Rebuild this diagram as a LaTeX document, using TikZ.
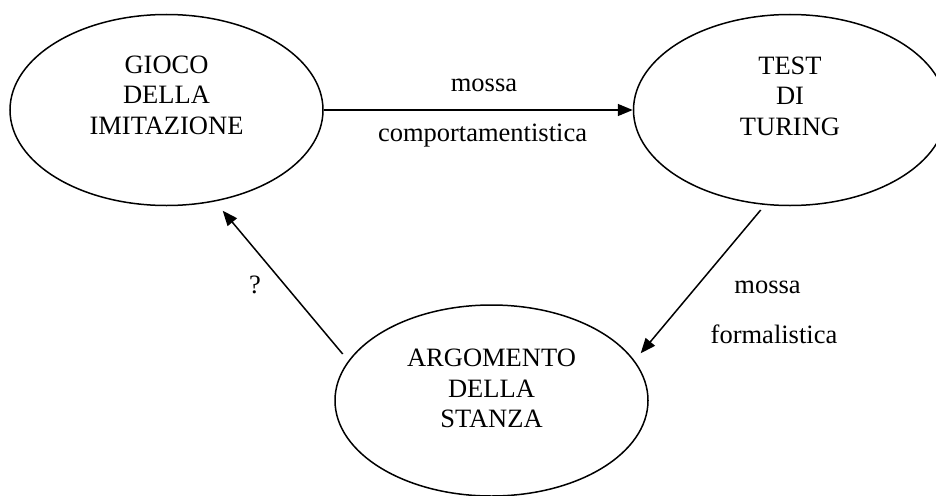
\documentclass[tikz,border=0pt]{standalone}
\usepackage{fontspec}
\setmainfont{Liberation Serif}
\usetikzlibrary{shapes.geometric,arrows.meta,calc}
\begin{document}
\begin{tikzpicture}[x=1pt,y=-1pt,
  bubble/.style={draw,line width=1.5pt,ellipse,minimum width=313pt,minimum height=191pt,inner sep=0pt},
  caption/.style={align=center,anchor=north,inner sep=0pt,font=\fontsize{26.5}{30.7}\selectfont},
  edgelabel/.style={anchor=base,inner sep=0pt,font=\fontsize{26.5}{30.7}\selectfont},
  link/.style={line width=1.5pt,-{Triangle[length=15pt,width=12pt]}}]
\useasboundingbox (0,0) rectangle (936,495);

% the three stages of the argument
\node[bubble] (gioco) at (166.5,110) {};
\node[bubble] (test)  at (790,110)   {};
\node[bubble] (argo)  at (491.5,400.5) {};

\node[caption] (giocotext) at (166.5,55.4) {GIOCO\\DELLA\\IMITAZIONE};
\node[caption] (testtext)  at (790,56.5)   {TEST\\DI\\TURING};
\node[caption] (argotext)  at (491.5,348.8) {ARGOMENTO\\DELLA\\STANZA};

% end points of the slanted connectors
\coordinate (testout)  at ($(test.center)+(-29.3,100)$);
\coordinate (argoin)   at ($(argo.center)+(149.2,-47.2)$);
\coordinate (argoout)  at ($(argo.center)+(-148.8,-46.5)$);
\coordinate (giocoin)  at ($(gioco.center)+(56.2,100.7)$);

\draw[link] (gioco.east) -- (test.west);
\draw[link] (testout) -- (argoin);
\draw[link] (argoout) -- (giocoin);

% connector labels
\node[edgelabel] (m1) at (484,91.7)    {mossa};
\node[edgelabel] (m1b) at (482.5,141.7) {comportamentistica};
\node[edgelabel] (m2) at (767.5,293.3) {mossa};
\node[edgelabel] (m2b) at (774,343.3)  {formalistica};
\node[edgelabel] (q) at (255,293.3)    {?};
\end{tikzpicture}
\end{document}
